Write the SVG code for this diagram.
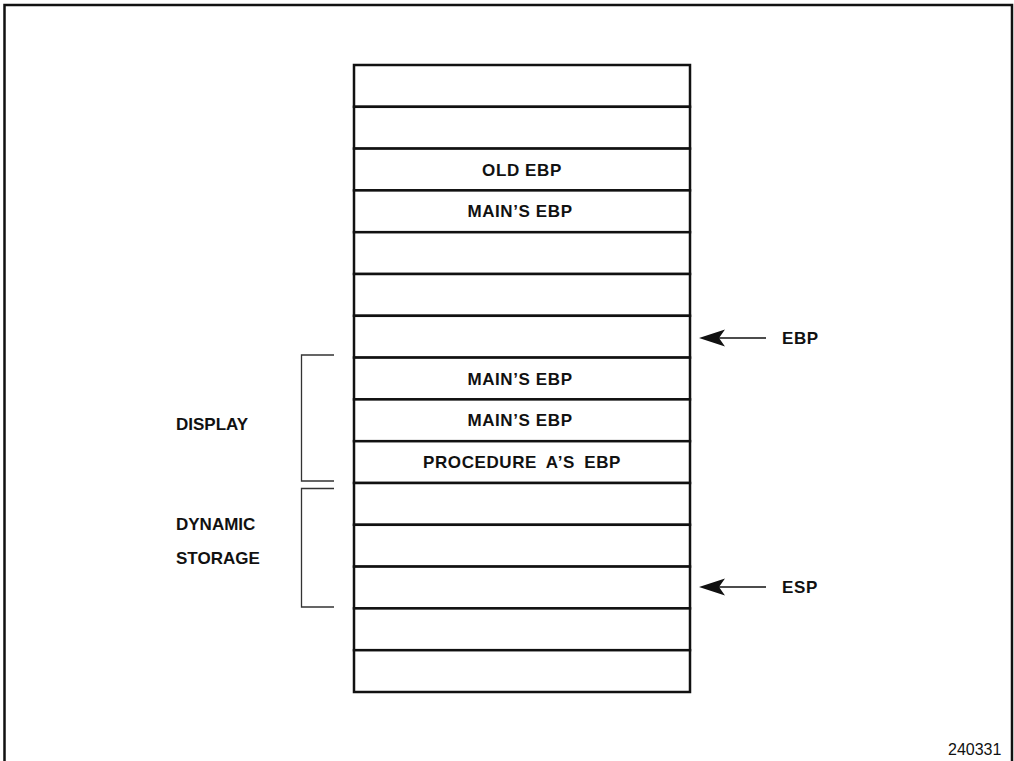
<svg xmlns="http://www.w3.org/2000/svg" width="1014" height="761" viewBox="0 0 1014 761">
<style>
  .lbl { font-family: "Liberation Sans", Arial, Helvetica, sans-serif; font-weight: bold; font-size: 17px; fill: #111; letter-spacing: 0.6px; }
  .side { letter-spacing: 0; }
  .mid { text-anchor: middle; }
  .wide { word-spacing: 4px; }
  .cell { fill: #fff; stroke: #111; stroke-width: 2.5; }
  .brk { fill: none; stroke: #333; stroke-width: 1.3; }
  .shaft { stroke: #111; stroke-width: 1.6; fill: none; }
  .head { fill: #111; }
  .num { font-family: "Liberation Sans", Arial, Helvetica, sans-serif; font-size: 16px; fill: #111; }
</style>
<rect x="0" y="0" width="1014" height="761" fill="#fff"/>
<path d="M4.5 761 V5 H1012 V761" fill="none" stroke="#111" stroke-width="2.5"/>

<g id="stack">
  <g id="row1"><rect class="cell" x="354" y="65" width="336" height="41.8"/></g>
  <g id="row2"><rect class="cell" x="354" y="106.8" width="336" height="41.8"/></g>
  <g id="row3"><rect class="cell" x="354" y="148.6" width="336" height="41.8"/><text class="lbl mid" x="522" y="175.5">OLD EBP</text></g>
  <g id="row4"><rect class="cell" x="354" y="190.4" width="336" height="41.8"/><text class="lbl mid" x="520" y="217.3">MAIN’S EBP</text></g>
  <g id="row5"><rect class="cell" x="354" y="232.2" width="336" height="41.8"/></g>
  <g id="row6"><rect class="cell" x="354" y="274" width="336" height="41.8"/></g>
  <g id="row7"><rect class="cell" x="354" y="315.8" width="336" height="41.8"/></g>
  <g id="row8"><rect class="cell" x="354" y="357.6" width="336" height="41.8"/><text class="lbl mid" x="520" y="384.5">MAIN’S EBP</text></g>
  <g id="row9"><rect class="cell" x="354" y="399.4" width="336" height="41.8"/><text class="lbl mid" x="520" y="426.3">MAIN’S EBP</text></g>
  <g id="row10"><rect class="cell" x="354" y="441.2" width="336" height="41.8"/><text class="lbl mid wide" x="522" y="468.1">PROCEDURE A’S EBP</text></g>
  <g id="row11"><rect class="cell" x="354" y="483" width="336" height="41.8"/></g>
  <g id="row12"><rect class="cell" x="354" y="524.8" width="336" height="41.8"/></g>
  <g id="row13"><rect class="cell" x="354" y="566.6" width="336" height="41.8"/></g>
  <g id="row14"><rect class="cell" x="354" y="608.4" width="336" height="41.8"/></g>
  <g id="row15"><rect class="cell" x="354" y="650.2" width="336" height="41.8"/></g>
</g>

<g id="display-bracket">
  <path class="brk" d="M334 355 H301.5 V481 H334"/>
  <text class="lbl side" x="176" y="429.5">DISPLAY</text>
</g>
<g id="dynamic-bracket">
  <path class="brk" d="M334 488.5 H301.5 V607 H334"/>
  <text class="lbl side" x="176" y="529.5">DYNAMIC</text>
  <text class="lbl side" x="176" y="563.5">STORAGE</text>
</g>

<g id="connectors">
  <g id="ebp-arrow">
    <line class="shaft" x1="718" y1="338" x2="766" y2="338"/>
    <path class="head" d="M699 338 L725 329.5 L719 338 L725 346.5 Z"/>
  </g>
  <g id="esp-arrow">
    <line class="shaft" x1="718" y1="587" x2="766" y2="587"/>
    <path class="head" d="M699 587 L725 578.5 L719 587 L725 595.5 Z"/>
  </g>
</g>

<g id="ebp-label"><text class="lbl" x="782" y="344">EBP</text></g>
<g id="esp-label"><text class="lbl" x="782" y="593">ESP</text></g>

<text class="num" x="948" y="755">240331</text>
</svg>
